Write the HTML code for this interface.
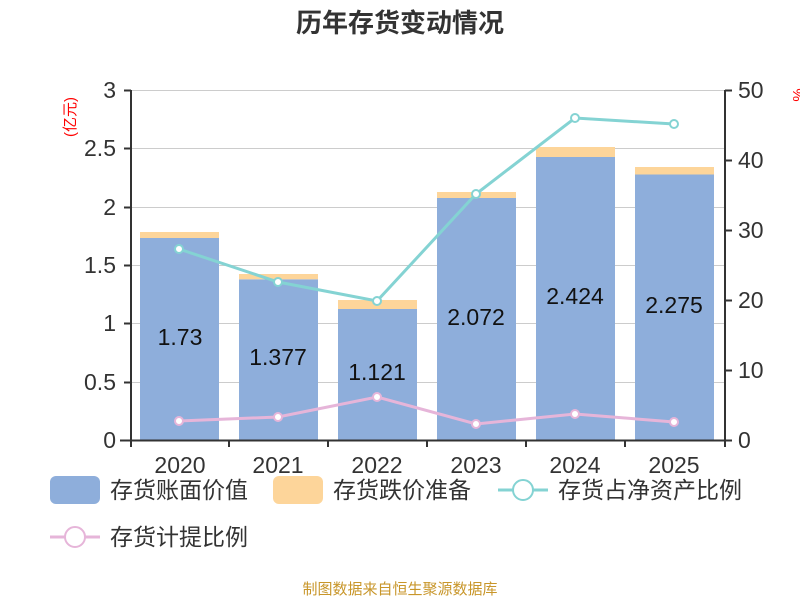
<!DOCTYPE html>
<html><head><meta charset="utf-8"><style>
body{margin:0;background:#fff;}
svg{display:block;font-family:"Liberation Sans","Noto Sans CJK SC",sans-serif;}
</style></head><body>
<svg width="800" height="600" viewBox="0 0 800 600">
<text x="400" y="32" font-size="26" font-weight="bold" text-anchor="middle" fill="#333">历年存货变动情况</text>
<g stroke="#ccc" stroke-width="1">
<line x1="131" x2="725" y1="90.5" y2="90.5"/>
<line x1="131" x2="725" y1="148.5" y2="148.5"/>
<line x1="131" x2="725" y1="207.5" y2="207.5"/>
<line x1="131" x2="725" y1="265.5" y2="265.5"/>
<line x1="131" x2="725" y1="323.5" y2="323.5"/>
<line x1="131" x2="725" y1="382.5" y2="382.5"/>
</g>
<g fill="#8eaedb">
<rect x="140" y="238" width="79" height="202"/>
<rect x="239" y="279.3" width="79" height="160.7"/>
<rect x="338" y="309" width="79" height="131"/>
<rect x="437" y="198" width="79" height="242"/>
<rect x="536" y="157" width="79" height="283"/>
<rect x="635" y="174.5" width="79" height="265.5"/>
</g>
<g fill="#fdd59a">
<rect x="140" y="232" width="79" height="6"/>
<rect x="239" y="274" width="79" height="5.3"/>
<rect x="338" y="300" width="79" height="9"/>
<rect x="437" y="192" width="79" height="6"/>
<rect x="536" y="147" width="79" height="10"/>
<rect x="635" y="167" width="79" height="7.5"/>
</g>
<g font-size="23" fill="#111" text-anchor="middle">
<text x="180" y="345">1.73</text>
<text x="278" y="365">1.377</text>
<text x="377" y="380">1.121</text>
<text x="476" y="325">2.072</text>
<text x="575" y="304">2.424</text>
<text x="674" y="313">2.275</text>
</g>
<polyline points="179,249 278,282 377,301 476,194 575,118 674,124" fill="none" stroke="#84d3d3" stroke-width="3"/>
<g fill="#fff" stroke="#84d3d3" stroke-width="2">
<circle cx="179" cy="249" r="4"/><circle cx="278" cy="282" r="4"/><circle cx="377" cy="301" r="4"/>
<circle cx="476" cy="194" r="4"/><circle cx="575" cy="118" r="4"/><circle cx="674" cy="124" r="4"/>
</g>
<polyline points="179,421 278,417 377,397 476,424 575,414 674,422" fill="none" stroke="#e6b5d9" stroke-width="3"/>
<g fill="#fff" stroke="#e6b5d9" stroke-width="2">
<circle cx="179" cy="421" r="4"/><circle cx="278" cy="417" r="4"/><circle cx="377" cy="397" r="4"/>
<circle cx="476" cy="424" r="4"/><circle cx="575" cy="414" r="4"/><circle cx="674" cy="422" r="4"/>
</g>
<g stroke="#333" stroke-width="2" fill="none">
<line x1="131" y1="90" x2="131" y2="440"/>
<line x1="725" y1="90" x2="725" y2="440"/>
<line x1="120" y1="440.5" x2="725" y2="440.5"/>
<path d="M124 90.5H131M124 148.5H131M124 207.5H131M124 265.5H131M124 323.5H131M124 382.5H131M124 440.5H131"/>
<path d="M725 90.5H732M725 160.5H732M725 230.5H732M725 300.5H732M725 370.5H732M725 440.5H732"/>
<path d="M131 440V447M229 440V447M328 440V447M427 440V447M526 440V447M625 440V447M725 440V447"/>
</g>
<g font-size="23" fill="#333" text-anchor="end">
<text x="116" y="98">3</text><text x="116" y="156">2.5</text><text x="116" y="215">2</text>
<text x="116" y="273">1.5</text><text x="116" y="331">1</text><text x="116" y="390">0.5</text><text x="116" y="448">0</text>
</g>
<g font-size="23" fill="#333" text-anchor="start">
<text x="738" y="98">50</text><text x="738" y="168">40</text><text x="738" y="238">30</text>
<text x="738" y="308">20</text><text x="738" y="378">10</text><text x="738" y="448">0</text>
</g>
<g font-size="23" fill="#333" text-anchor="middle">
<text x="180" y="473">2020</text><text x="278" y="473">2021</text><text x="377" y="473">2022</text>
<text x="476" y="473">2023</text><text x="575" y="473">2024</text><text x="674" y="473">2025</text>
</g>
<text transform="translate(75,117) rotate(-90)" font-size="15" fill="red" text-anchor="middle">(亿元)</text>
<text transform="translate(803,95) rotate(-90)" font-size="15" fill="red" text-anchor="middle">%</text>
<rect x="50" y="476" width="50" height="28" rx="6" fill="#8eaedb"/>
<text x="110" y="498" font-size="23" fill="#333">存货账面价值</text>
<rect x="273" y="476" width="50" height="28" rx="6" fill="#fdd59a"/>
<text x="333" y="498" font-size="23" fill="#333">存货跌价准备</text>
<line x1="498" y1="490" x2="548" y2="490" stroke="#84d3d3" stroke-width="3"/>
<circle cx="523" cy="490" r="10" fill="#fff" stroke="#84d3d3" stroke-width="2"/>
<text x="558" y="498" font-size="23" fill="#333">存货占净资产比例</text>
<line x1="50" y1="537" x2="100" y2="537" stroke="#e6b5d9" stroke-width="3"/>
<circle cx="75" cy="537" r="10" fill="#fff" stroke="#e6b5d9" stroke-width="2"/>
<text x="110" y="545" font-size="23" fill="#333">存货计提比例</text>
<text x="400" y="594" font-size="15" fill="#c8962a" text-anchor="middle">制图数据来自恒生聚源数据库</text>
</svg>
</body></html>
